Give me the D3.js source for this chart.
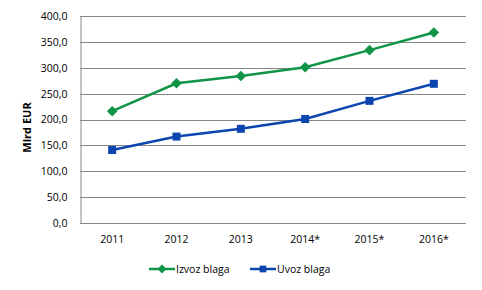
<!DOCTYPE html>
<html>
<head>
<meta charset="utf-8">
<script src="https://cdn.jsdelivr.net/npm/d3@7"></script>
<style>
  body { margin: 0; background: #fff; }
  text { font-family: "Open Sans", Lato, sans-serif; fill: #000; }
</style>
</head>
<body>
<div id="chart"></div>
<script>
const years = [`2011`, `2012`, `2013`, `2014*`, `2015*`, `2016*`];
const izvoz = [216, 270, 284, 301, 334, 368];
const uvoz = [141, 167, 182, 201, 236, 269];
const yTicks = [0, 50, 100, 150, 200, 250, 300, 350, 400];

const width = 482;
const height = 290;
const margin = { top: 16, right: 16, bottom: 67, left: 80 };

const svg = d3
  .select(`#chart`)
  .append(`svg`)
  .attr(`width`, width)
  .attr(`height`, height);

const x = d3
  .scaleBand()
  .domain(years)
  .range([margin.left, width - margin.right]);

const y = d3
  .scaleLinear()
  .domain([0, 400])
  .range([height - margin.bottom, margin.top]);

const fmt = (v) => d3.format(`.1f`)(v).replace(`.`, `,`);
const fontSize = `10.5px`;

// gridlines
svg
  .append(`g`)
  .selectAll(`line`)
  .data(yTicks)
  .enter()
  .append(`line`)
  .attr(`x1`, margin.left)
  .attr(`x2`, width - margin.right)
  .attr(`y1`, (d) => Math.round(y(d)) + 0.5)
  .attr(`y2`, (d) => Math.round(y(d)) + 0.5)
  .attr(`stroke`, `#868686`)
  .attr(`stroke-width`, 1);

// y axis
const yAxis = svg
  .append(`g`)
  .attr(`transform`, `translate(${margin.left + 0.5},0)`)
  .call(d3.axisLeft(y).tickValues(yTicks).tickFormat(fmt).tickSize(0).tickPadding(13));
yAxis.select(`.domain`).attr(`stroke`, `#868686`);
yAxis.selectAll(`text`).style(`font-size`, fontSize).style(`font-family`, `"Open Sans", sans-serif`);

// x axis
const xAxis = svg
  .append(`g`)
  .attr(`transform`, `translate(0,${Math.round(y(0)) + 0.5})`)
  .call(d3.axisBottom(x).tickSize(0).tickPadding(12));
xAxis.select(`.domain`).remove();
xAxis.selectAll(`text`).style(`font-size`, fontSize).style(`font-family`, `"Open Sans", sans-serif`);

// axis title
svg
  .append(`text`)
  .attr(`transform`, `translate(31,${(margin.top + y(0)) / 2 + 8}) rotate(-90)`)
  .attr(`text-anchor`, `middle`)
  .style(`font-size`, `11px`)
  .style(`font-weight`, `bold`)
  .text(`Mlrd EUR`);

const series = [
  { name: `Izvoz blaga`, values: izvoz, color: `#109447`, shape: d3.symbolDiamond2, size: 72 },
  { name: `Uvoz blaga`, values: uvoz, color: `#0b45ad`, shape: d3.symbolSquare, size: 64 },
];

series.forEach((s) => {
  const ln = d3.line()
    .x((d, i) => x(years[i]) + x.bandwidth() / 2)
    .y((d) => y(d));
  svg
    .append(`path`)
    .datum(s.values)
    .attr(`fill`, `none`)
    .attr(`stroke`, s.color)
    .attr(`stroke-width`, 2.5)
    .attr(`d`, ln);
  svg
    .append(`g`)
    .selectAll(`path`)
    .data(s.values)
    .enter()
    .append(`path`)
    .attr(`d`, d3.symbol().type(s.shape).size(s.size))
    .attr(`fill`, s.color)
    .attr(`transform`, (d, i) => `translate(${x(years[i]) + x.bandwidth() / 2},${y(d)})`);
});

// legend
const legendY = 269;
const legendX = [149, 250];
series.forEach((s, i) => {
  const g = svg.append(`g`).attr(`transform`, `translate(${legendX[i]},${legendY})`);
  g.append(`line`)
    .attr(`x1`, 0)
    .attr(`x2`, 26)
    .attr(`stroke`, s.color)
    .attr(`stroke-width`, 2.5);
  g.append(`path`)
    .attr(`d`, d3.symbol().type(s.shape).size(s.size * 0.7))
    .attr(`fill`, s.color)
    .attr(`transform`, `translate(13,0)`);
  g.append(`text`)
    .attr(`x`, 27)
    .attr(`y`, 4)
    .style(`font-size`, fontSize)
    .text(s.name);
});
</script>
</body>
</html>
